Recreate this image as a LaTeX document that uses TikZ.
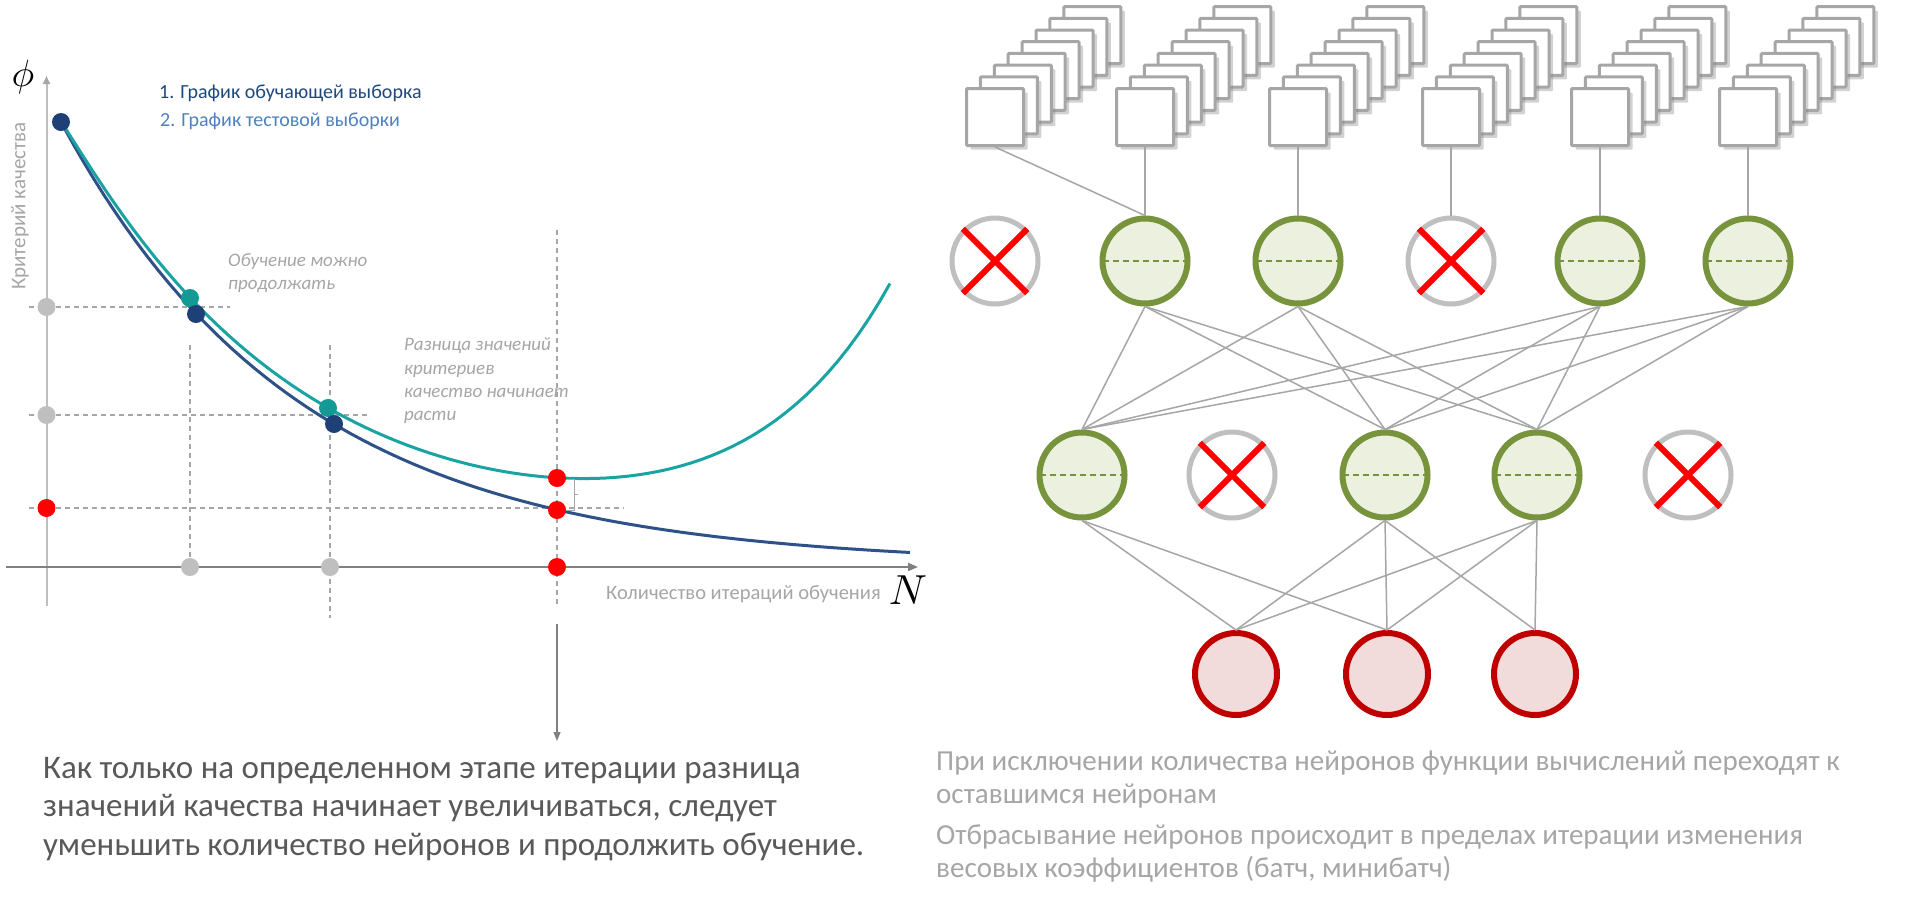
\documentclass[tikz,border=0pt]{standalone}
\usepackage{graphicx}
\usepackage{fontspec}
\setmainfont{Carlito}
\usetikzlibrary{shadows,arrows.meta}

\definecolor{navycurve}{HTML}{2E5288}
\definecolor{tealcurve}{HTML}{1AA3A3}
\definecolor{navydot}{HTML}{1F3F77}
\definecolor{tealdot}{HTML}{139A95}
\definecolor{guidegray}{HTML}{A6A6A6}
\definecolor{axisgray}{HTML}{808080}
\definecolor{palegray}{HTML}{BFBFBF}
\definecolor{legendone}{HTML}{1F497D}
\definecolor{legendtwo}{HTML}{4F81BD}
\definecolor{olivering}{HTML}{77933C}
\definecolor{olivefill}{HTML}{EBF1DE}
\definecolor{redring}{HTML}{C00000}
\definecolor{redfill}{HTML}{F2DCDB}
\definecolor{textdark}{HTML}{595959}

\begin{document}
\begin{tikzpicture}[x=1pt,y=-1pt]
	\tikzstyle{every node}+=[inner sep=0pt]
	\tikzstyle{dot}=[circle,minimum size=18pt]
	\tikzstyle{guide}=[guidegray,line width=1.2pt,dash pattern=on 5pt off 4pt]
	\tikzstyle{neuron}=[circle,draw=olivering,fill=olivefill,line width=6pt,minimum size=85pt]
	\tikzstyle{outneuron}=[circle,draw=redring,fill=redfill,line width=6pt,minimum size=82pt]
	\tikzstyle{dropped}=[circle,draw=palegray,fill=white,line width=5pt,minimum size=86pt]
	\tikzstyle{frame}=[draw=guidegray,fill=white,line width=3pt,minimum size=57pt,rounded corners=1pt,drop shadow={shadow xshift=4pt,shadow yshift=-4pt,opacity=0.35}]
	\tikzstyle{link}=[guidegray,line width=1.5pt]
	\tikzstyle{cross}=[red,line width=6pt]
	\tikzstyle{half}=[olivering,line width=1.5pt,dash pattern=on 6pt off 4pt,shorten >=3pt,shorten <=3pt]
	\fill[white] (0,0) rectangle (1919,906);
	\useasboundingbox (0,0) rectangle (1919,906);

	% chart
	\draw[guide] (29,307) -- (230,307);
	\draw[guide] (29,415) -- (370,415);
	\draw[guide] (29,508) -- (624,508);
	\draw[guide] (190,345) -- (190,567);
	\draw[guide] (330,345) -- (330,618);
	\draw[guide] (557,230) -- (557,606);
	\coordinate (ybot) at (46.5,606);
	\coordinate (ytop) at (46.5,76);
	\coordinate (xleft) at (6,567);
	\coordinate (xright) at (918,567);
	\draw[palegray,line width=2pt,-{Triangle[length=8pt,width=7pt,color=guidegray]}] (ybot) -- (ytop);
	\draw[axisgray,line width=2pt,-{Triangle[length=10pt,width=8pt]}] (xleft) -- (xright);
	\draw[navycurve,line width=3pt] plot[domain=61:910,samples=80] (\x,{565-443*exp(-0.0042*(\x-61))});
	\draw[tealcurve,line width=3pt] plot[domain=61:890,samples=80] (\x,{565-443*exp(-0.0042*(\x-61))-8*(1-exp(-(\x-61)/30))-0.689*exp(0.00716*(\x-61))});
	\node[dot,fill=navydot] (n0) at (61,122) {};
	\node[dot,fill=tealdot] (t1) at (190,298) {};
	\node[dot,fill=navydot] (n1) at (196,314) {};
	\node[dot,fill=tealdot] (t2) at (328,408) {};
	\node[dot,fill=navydot] (n2) at (334,424) {};
	\node[dot,fill=red] (r1) at (557,478) {};
	\node[dot,fill=red] (r2) at (557,510) {};
	\node[dot,fill=red] (r3) at (557,567) {};
	\node[dot,fill=red] (ry) at (46.5,508) {};
	\node[dot,fill=palegray] (g1) at (46.5,307) {};
	\node[dot,fill=palegray] (g2) at (46.5,415) {};
	\node[dot,fill=palegray] (g3) at (190,567) {};
	\node[dot,fill=palegray] (g4) at (330,567) {};
	\draw[guidegray,line width=1pt] (r1) ++(9,1) -- ++(8,0) -- ++(0,31) -- ++(-8,0);
	\draw[guidegray,line width=1pt] (r1) ++(17,16) -- ++(4,0);
	\node (phi) at (23,77) {\scalebox{3.8}{$\phi$}};
	\node (nlabel) at (908,590) {\scalebox{4.2}{$N$}};
	\node[rotate=90,text=guidegray,font=\fontsize{21}{24}\selectfont] (ylabel) at (20,206) {Критерий качества};
	\node[anchor=west,text=guidegray,font=\fontsize{20.5}{24}\selectfont] (xlabel) at (606,594) {Количество итераций обучения};
	\node[anchor=west,text=legendone,font=\fontsize{20}{24}\selectfont] (leg1) at (159,93) {1. График обучающей выборка};
	\node[anchor=west,text=legendtwo,font=\fontsize{20}{24}\selectfont] (leg2) at (160,121) {2. График тестовой выборки};
	\node[anchor=west,align=left,text=guidegray,font=\itshape\fontsize{19}{23}\selectfont] (note1) at (228,273) {Обучение можно\\продолжать};
	\node[anchor=west,align=left,text=guidegray,font=\itshape\fontsize{19}{23.3}\selectfont] (note2) at (404,381) {Разница значений\\критериев\\качество начинает\\расти};
	\coordinate (arrtop) at (557,624);
	\coordinate (arrbot) at (557,741);
	\draw[axisgray,line width=1.2pt,-{Triangle[length=9pt,width=7pt]}] (arrtop) -- (arrbot);

	% network
	\foreach \cx [count=\i] in {995,1145,1298,1451,1600,1748}
		\foreach \k in {7,...,0}
			\node[frame] (s\i-\k) at ({\cx+13.9*\k},{117-11.7*\k}) {};
	\node[dropped] (a1) at (995,261) {};
	\node[neuron] (a2) at (1145,261) {};
	\node[neuron] (a3) at (1298,261) {};
	\node[dropped] (a4) at (1451,261) {};
	\node[neuron] (a5) at (1600,261) {};
	\node[neuron] (a6) at (1748,261) {};
	\node[neuron] (b1) at (1082,475) {};
	\node[dropped] (b2) at (1232,475) {};
	\node[neuron] (b3) at (1385,475) {};
	\node[neuron] (b4) at (1537,475) {};
	\node[dropped] (b5) at (1688,475) {};
	\node[outneuron] (c1) at (1236,674) {};
	\node[outneuron] (c2) at (1387,674) {};
	\node[outneuron] (c3) at (1535,674) {};
	\foreach \i/\v in {1/a2,2/a2,3/a3,4/a4,5/a5,6/a6}
		\draw[link] (s\i-0.south) -- (\v.north);
	\foreach \u in {a2,a3,a5,a6}
		\foreach \v in {b1,b3,b4}
			\draw[link] (\u.south) -- (\v.north);
	\foreach \u/\v in {b1/c1,b1/c2,b3/c1,b3/c2,b3/c3,b4/c1,b4/c2,b4/c3}
		\draw[link] (\u.south) -- (\v.north);
	\foreach \v in {a2,a3,a5,a6,b1,b3,b4}
		\draw[half] (\v.west) -- (\v.east);
	\foreach \v in {a1,a4,b2,b5}
		\draw[cross] (\v.45) -- (\v.225) (\v.135) -- (\v.315);

	\node[anchor=west,align=left,text=textdark,font=\fontsize{33}{38.5}\selectfont] (leftnote) at (43,809) {Как только на определенном этапе итерации разница\\значений качества начинает увеличиваться, следует\\уменьшить количество нейронов и продолжить обучение.};
	\node[anchor=west,align=left,text=guidegray,font=\fontsize{29}{33}\selectfont] (rightnote) at (936,817) {При исключении количества нейронов функции вычислений переходят к\\оставшимся нейронам\\[8pt]Отбрасывание нейронов происходит в пределах итерации изменения\\весовых коэффициентов (батч, минибатч)};
\end{tikzpicture}
\end{document}
